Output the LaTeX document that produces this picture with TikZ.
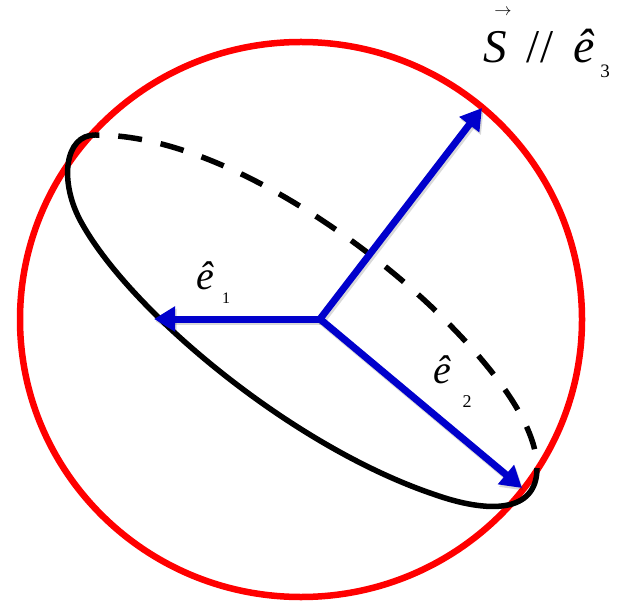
\documentclass[tikz,border=0pt]{standalone}
\usepackage{fontspec}
\setmainfont{Liberation Serif}
\usetikzlibrary{arrows.meta}
\definecolor{vecblue}{RGB}{0,0,204}
\tikzset{
  vecarrow/.style={vecblue,line width=7pt,line cap=round,-{Triangle[length=21pt,width=24pt]}},
  vecshade/.style={black,opacity=.15,line width=7pt,line cap=round,-{Triangle[length=21pt,width=24pt]},transform canvas={shift={(1.5pt,-2.5pt)}}},
  orbit/.style={line width=5.5pt},
  lab/.style={inner sep=0pt,anchor=base}
}

\begin{document}
\begin{tikzpicture}[x=1pt,y=1pt]
\useasboundingbox (0,0) rectangle (617,600);
% sphere
\draw[red,line width=6.5pt] (301,280.5) ellipse[x radius=281,y radius=277.5];
% orbit, front half solid, back half dashed
\coordinate (tipA) at (95,465);
\coordinate (frontA) at (80,380);
\coordinate (frontB) at (433,106);
\coordinate (tipB) at (537,132);
\coordinate (backA) at (444,281);
\draw[orbit] (tipA) .. controls (65,465) and (59,420) .. (frontA)
  .. controls (127,292) and (289,155) .. (frontB)
  .. controls (489,86) and (537,87) .. (tipB);
\draw[orbit,dash pattern=on 24pt off 19pt,dash phase=24pt] (tipB) .. controls (537,182) and (479.5,245.5) .. (backA)
  .. controls (366,359) and (215,466) .. (tipA);
% unit vectors
\coordinate (O) at (320,281);
\coordinate (e1tip) at (154,281);
\coordinate (e2tip) at (522,112);
\coordinate (e3tip) at (482,492);
\foreach \t in {e1tip,e2tip,e3tip}\draw[vecshade] (O)--(\t);
\foreach \t in {e1tip,e2tip,e3tip}\draw[vecarrow] (O)--(\t);
% labels
\node[lab,font=\fontsize{47}{50}\selectfont\itshape] (spin) at (495,537) {S};
\node[lab,font=\fontsize{19}{19}\selectfont] (spinarrow) at (503,584) {$\rightarrow$};
\node[lab,font=\fontsize{47}{50}\selectfont] (par) at (540,537) {//};
\node[lab,font=\fontsize{48}{50}\selectfont\itshape] (e3) at (584,537) {ê};
\node[lab,font=\fontsize{19}{20}\selectfont] (sub3) at (605,522) {3};
\node[lab,font=\fontsize{40}{42}\selectfont\itshape] (e1) at (205,310) {ê};
\node[lab,font=\fontsize{16}{18}\selectfont] (sub1) at (226,297) {1};
\node[lab,font=\fontsize{40}{42}\selectfont\itshape] (e2) at (442,217) {ê};
\node[lab,font=\fontsize{18}{20}\selectfont] (sub2) at (467,193) {2};
\end{tikzpicture}
\end{document}
